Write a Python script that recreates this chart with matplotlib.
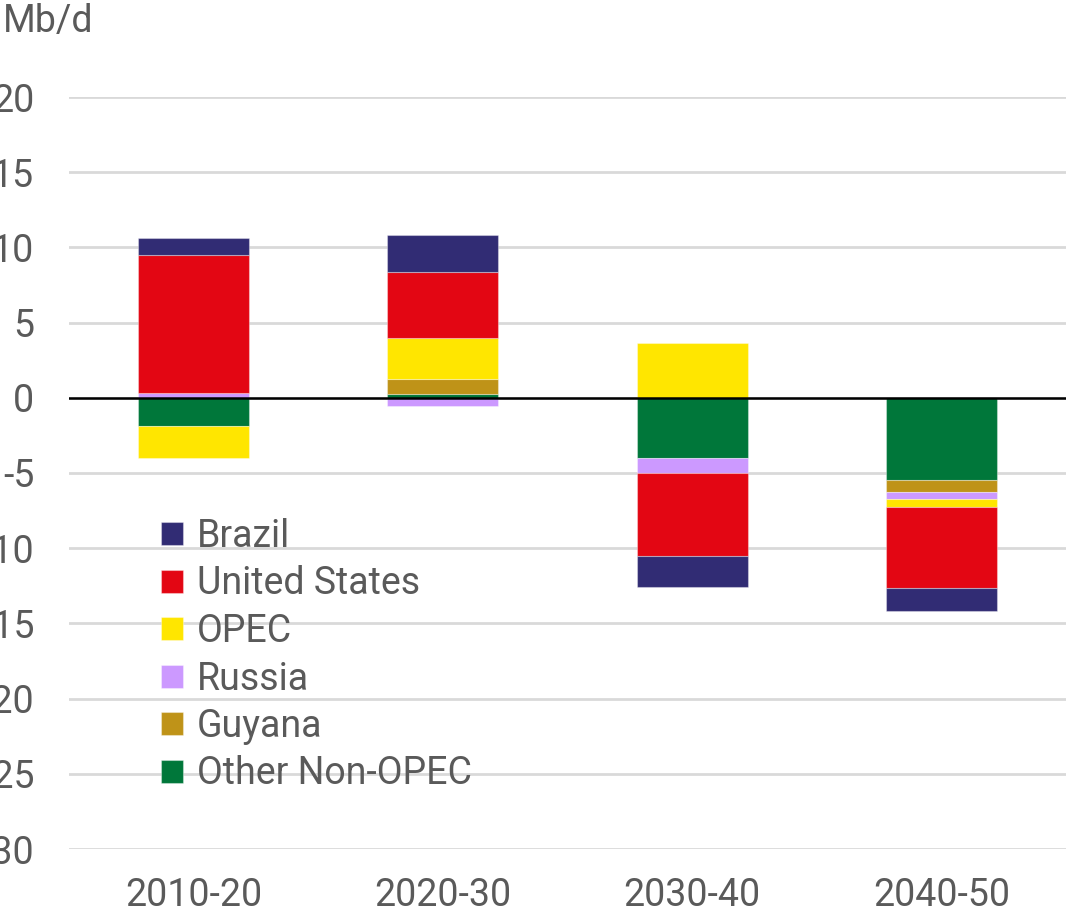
import matplotlib
matplotlib.use("Agg")
import matplotlib.pyplot as plt
import numpy as np

plt.rcParams['font.family'] = ['Roboto', 'DejaVu Sans']
plt.rcParams['axes.unicode_minus'] = False

categories = ["2010-20", "2020-30", "2030-40", "2040-50"]
# stacking order from zero outward
series_names = ["Other Non-OPEC", "Guyana", "Russia", "OPEC", "United States", "Brazil"]
other_non_opec = [-1.9, 0.24, -4.0, -5.47]
guyana = [0.0, 1.02, 0.0, -0.82]
russia = [0.3, -0.56, -0.97, -0.46]
opec = [-2.07, 2.74, 3.64, -0.53]
united_states = [9.2, 4.39, -5.56, -5.37]
brazil = [1.15, 2.46, -2.05, -1.53]
colors = {"Other Non-OPEC": "#00773A", "Guyana": "#BF9318", "Russia": "#CC99FF",
          "OPEC": "#FFE600", "United States": "#E30613", "Brazil": "#312C74"}
yticks = [20, 15, 10, 5, 0, -5, -10, -15, -20, -25, -30]

data = [other_non_opec, guyana, russia, opec, united_states, brazil]
text_color = "#5A5A5A"
fs = 27

fig = plt.figure(figsize=(10.66, 9.14), dpi=100)
ax = fig.add_axes([69/1066, 65/914, 1 - 69/1066, (849-97)/914])

x = np.arange(len(categories))
pos_bottom = np.zeros(len(categories))
neg_bottom = np.zeros(len(categories))
handles = {}
for name, vals in zip(series_names, data):
    vals = np.array(vals, dtype=float)
    bottoms = np.where(vals >= 0, pos_bottom, neg_bottom)
    h = ax.bar(x, vals, bottom=bottoms, width=0.445, color=colors[name],
               edgecolor=(1, 1, 1, 0.35), linewidth=0.8, zorder=3, label=name)
    handles[name] = h
    pos_bottom = pos_bottom + np.where(vals >= 0, vals, 0)
    neg_bottom = neg_bottom + np.where(vals < 0, vals, 0)

ax.set_xlim(-0.5, 3.5)
ax.set_ylim(-30, 20)
ax.set_yticks(yticks)
ax.set_yticklabels([str(t) for t in yticks])
ax.set_xticks(x)
ax.set_xticklabels(categories)
ax.tick_params(axis='both', length=0, labelsize=fs, labelcolor=text_color)
ax.tick_params(axis='y', pad=25)
ax.tick_params(axis='x', pad=20)
ax.grid(axis='y', color="#D9D9D9", linewidth=2, zorder=0)
ax.axhline(0, color="black", linewidth=1.8, zorder=4)
for s in ax.spines.values():
    s.set_visible(False)

fig.text(3/1066, 1 - 3/914, "Mb/d", fontsize=fs, color=text_color, va='top', ha='left')

order = ["Brazil", "United States", "OPEC", "Russia", "Guyana", "Other Non-OPEC"]
leg = ax.legend([handles[n] for n in order], order, loc='upper left',
                bbox_to_anchor=(161/1066, 1 - 518/914), bbox_transform=fig.transFigure,
                frameon=False, fontsize=fs, handlelength=0.58, handleheight=0.58,
                handletextpad=0.38, labelspacing=0.28, borderaxespad=0, borderpad=0)
for t in leg.get_texts():
    t.set_color(text_color)

fig.savefig("out.png", dpi=100)
